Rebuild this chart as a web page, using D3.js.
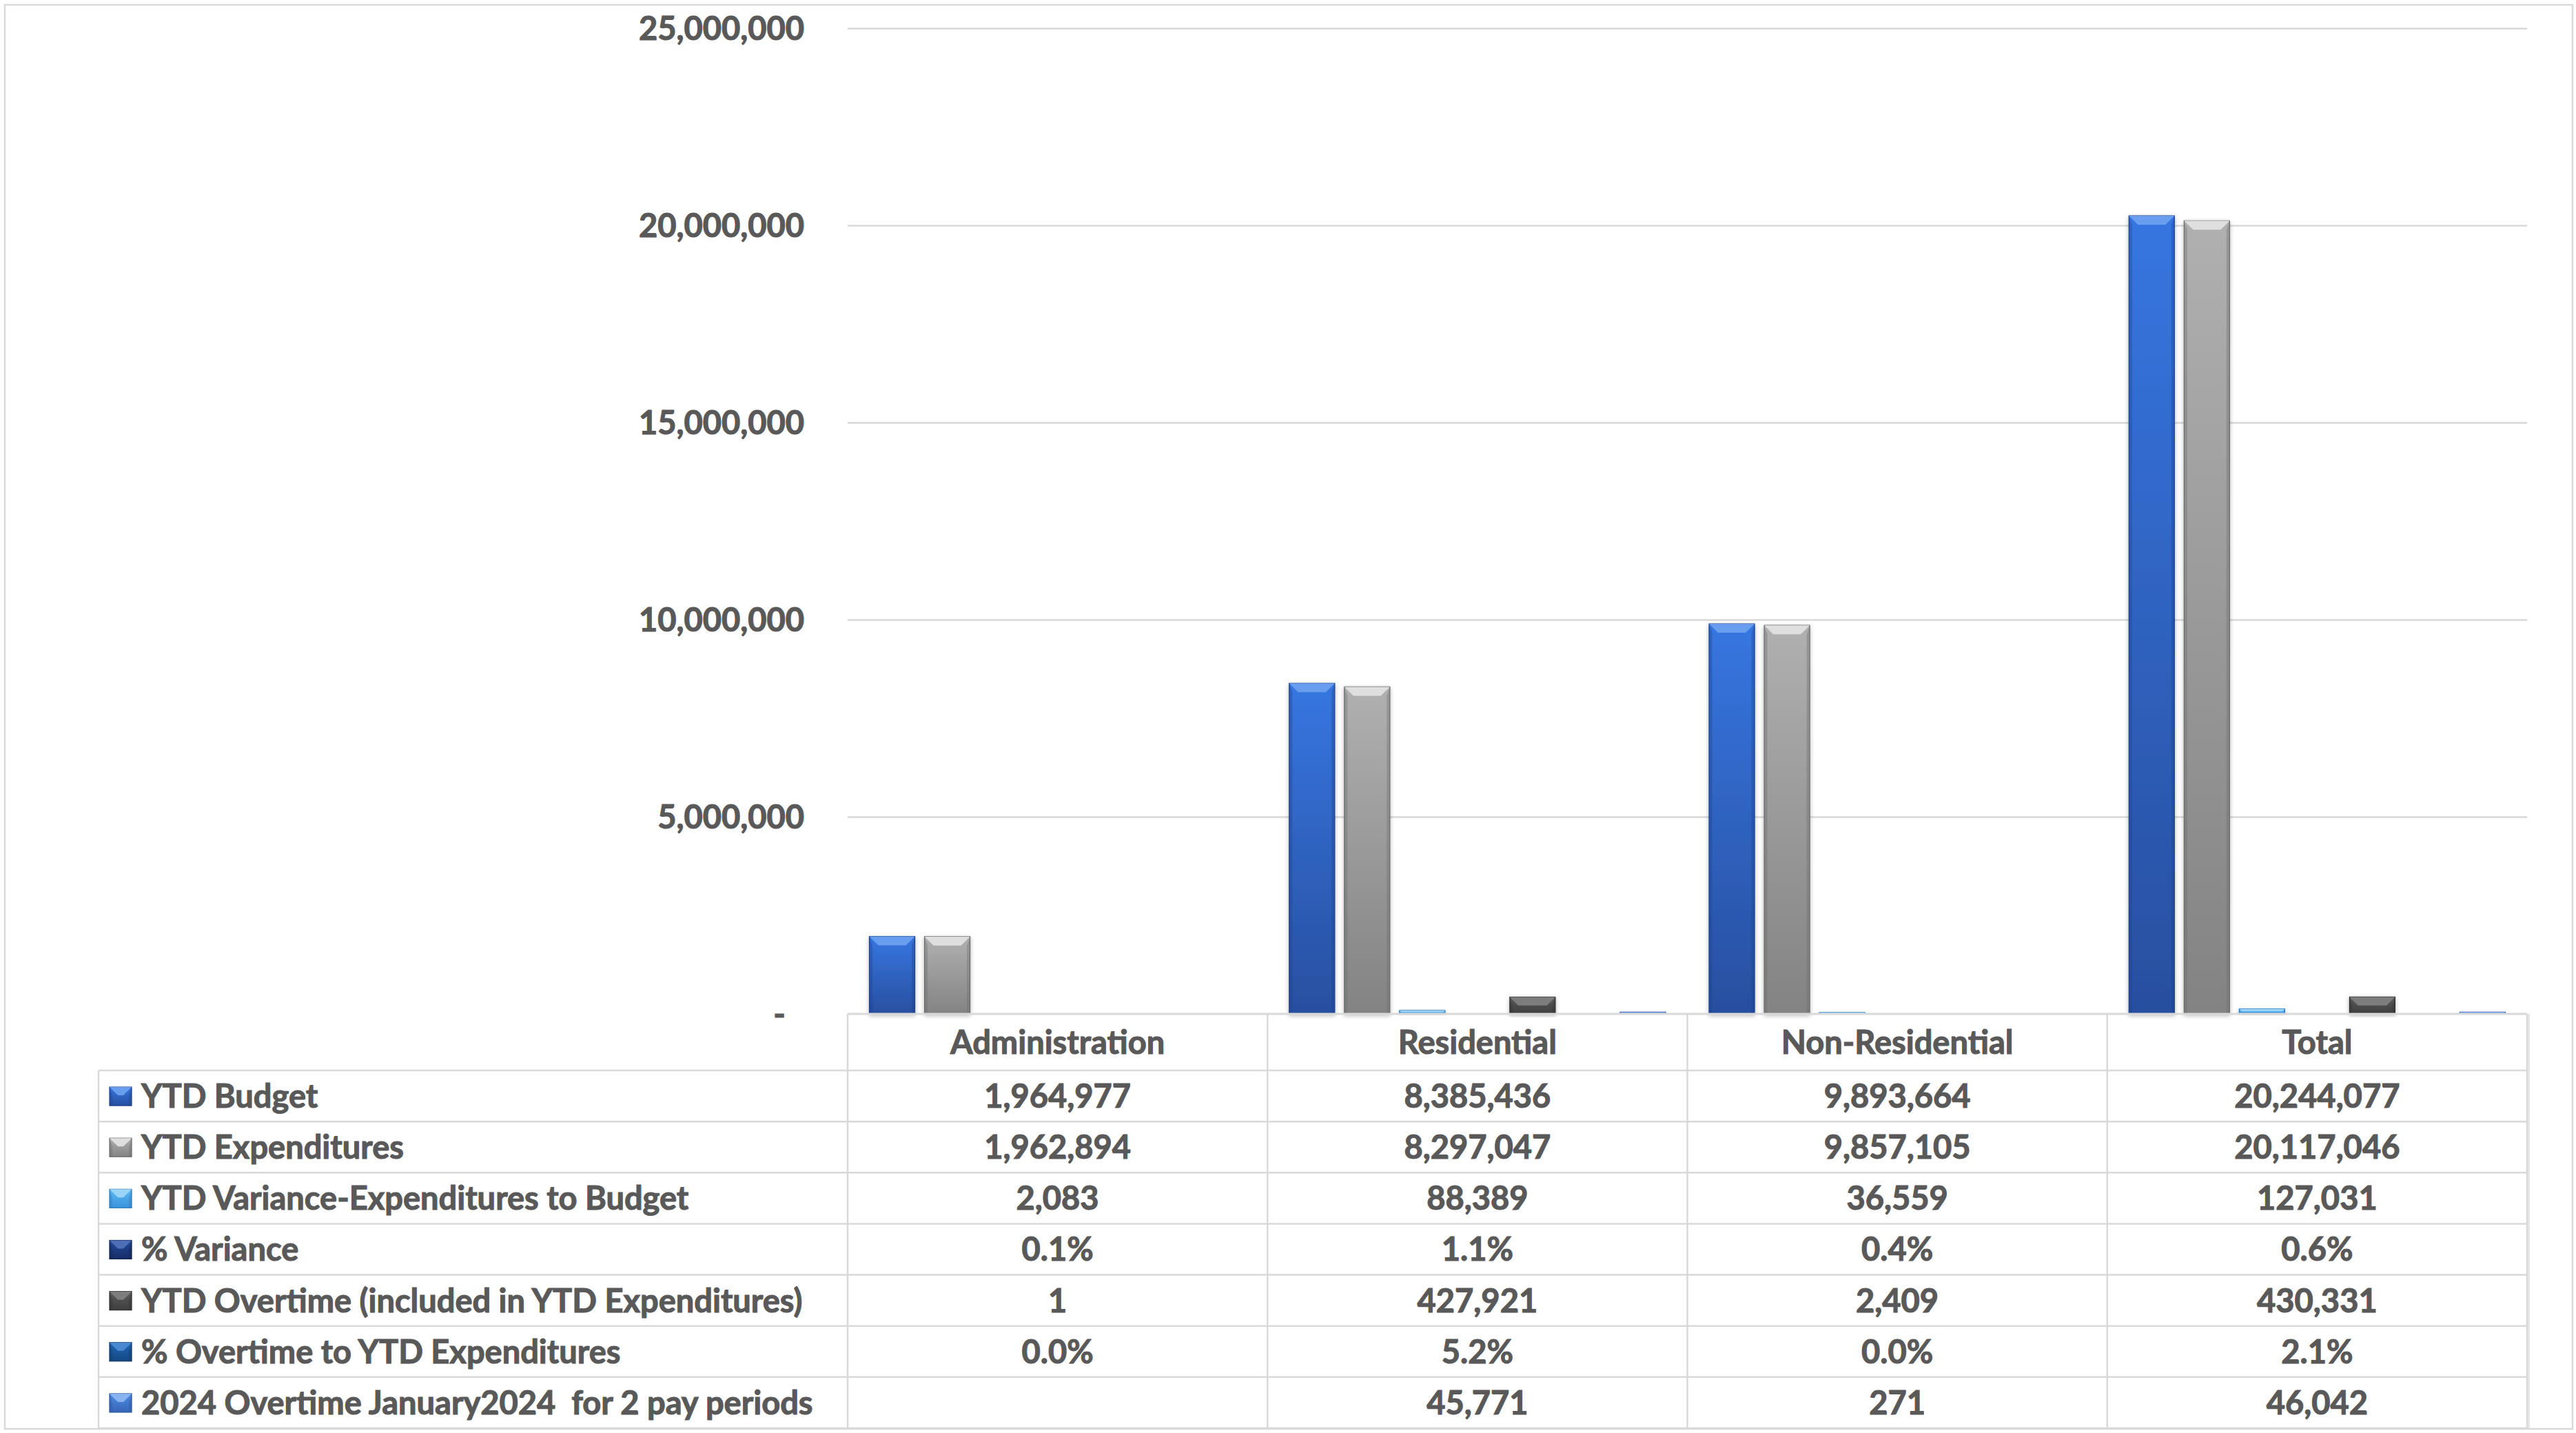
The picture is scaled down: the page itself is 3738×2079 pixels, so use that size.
<!DOCTYPE html>
<html>
<head>
<meta charset="utf-8">
<script src="https://cdn.jsdelivr.net/npm/d3@7"></script>
<style>
  body { margin: 0; background: #fff; }
  svg text { font-family: Lato, "Open Sans", sans-serif; font-weight: 700; fill: #595959; stroke: #595959; stroke-width: 1.1px; white-space: pre; }
</style>
</head>
<body>
<div id="chart"></div>
<script>
const categories = ["Administration", "Residential", "Non-Residential", "Total"];
const seriesNames = [
  "YTD Budget",
  "YTD Expenditures",
  "YTD Variance-Expenditures to Budget",
  "% Variance",
  "YTD Overtime (included in YTD Expenditures)",
  "% Overtime to YTD Expenditures",
  "2024 Overtime January2024  for 2 pay periods"
];
const ytdBudget = [1964977, 8385436, 9893664, 20244077];
const ytdExpenditures = [1962894, 8297047, 9857105, 20117046];
const ytdVariance = [2083, 88389, 36559, 127031];
const pctVariance = [0.001, 0.011, 0.004, 0.006];
const ytdOvertime = [1, 427921, 2409, 430331];
const pctOvertime = [0.0, 0.052, 0.0, 0.021];
const overtime2024 = [null, 45771, 271, 46042];
const yTicks = [0, 5000000, 10000000, 15000000, 20000000, 25000000];

const seriesValues = [ytdBudget, ytdExpenditures, ytdVariance, pctVariance, ytdOvertime, pctOvertime, overtime2024];
const isPercent = [false, false, false, true, false, true, false];

// kolori: top, bottom, bevel, rub
const palette = [
  { top: "#3676E0", bottom: "#284FA0", bevel: "#6FA2EF", edge: "#1E418A" },
  { top: "#B0B0B0", bottom: "#838383", bevel: "#E4E4E4", edge: "#6A6A6A" },
  { top: "#5DB9F3", bottom: "#3A93DA", bevel: "#A2D8F9", edge: "#2A7BC0" },
  { top: "#26499A", bottom: "#152D66", bevel: "#5173BA", edge: "#10244F" },
  { top: "#5C5C5C", bottom: "#3E3E3E", bevel: "#828282", edge: "#303030" },
  { top: "#2166B4", bottom: "#144883", bevel: "#4F8ED4", edge: "#0F3868" },
  { top: "#528BE2", bottom: "#3566B8", bevel: "#8FB9F3", edge: "#2A559E" }
];

const W = 3738, H = 2079;
const plotLeft = 1230, plotRight = 3667;
const tableLeft = 143, tableTop = 1471, headerBottom = 1553, tableBottom = 2072;

const svg = d3.select("#chart").append("svg")
  .attr("width", W).attr("height", H);

const defs = svg.append("defs");
defs.append("filter").attr("id", "shadow")
  .attr("x", "-20%").attr("y", "-20%").attr("width", "140%").attr("height", "140%")
  .append("feDropShadow")
  .attr("dx", 0).attr("dy", 2).attr("stdDeviation", 3)
  .attr("flood-color", "#000").attr("flood-opacity", 0.28);

palette.forEach((p, i) => {
  const lg = defs.append("linearGradient").attr("id", "grad" + i)
    .attr("x1", 0).attr("y1", 0).attr("x2", 0).attr("y2", 1);
  lg.append("stop").attr("offset", "0%").attr("stop-color", p.top);
  lg.append("stop").attr("offset", "100%").attr("stop-color", p.bottom);
});

// okvir
svg.append("rect")
  .attr("x", 7).attr("y", 7).attr("width", 3726).attr("height", 2066)
  .attr("fill", "none").attr("stroke", "#D9D9D9").attr("stroke-width", 2.5);

const y = d3.scaleLinear().domain([0, 25000000]).range([tableTop, 41]);
const x0 = d3.scaleBand().domain(categories).range([plotLeft, plotRight]).padding(0);
const x1 = d3.scaleBand().domain(d3.range(seriesNames.length))
  .range([0, x0.bandwidth()]).paddingInner(0.175).paddingOuter(0.394);

// os y + mreza
const yAxis = svg.append("g")
  .attr("transform", `translate(${plotLeft},0)`)
  .call(d3.axisLeft(y)
    .tickValues(yTicks)
    .tickSizeInner(-(plotRight - plotLeft))
    .tickSizeOuter(0)
    .tickPadding(63)
    .tickFormat((d) => (d === 0 ? "-\u2007" : d3.format(",")(d))));
yAxis.select(".domain").remove();
yAxis.selectAll(".tick line")
  .attr("stroke", "#D9D9D9").attr("stroke-width", 2.5)
  .attr("display", (d) => (d === 0 ? "none" : null));
yAxis.selectAll(".tick text")
  .attr("font-size", 47).attr("dy", "0.36em")
  .attr("font-family", null).attr("fill", null);

function bevelShape(g, x, yTop, w, h, p, idx, b) {
  const bb = Math.min(b, h / 2, w / 2);
  g.append("rect")
    .attr("x", x).attr("y", yTop).attr("width", w).attr("height", h)
    .attr("fill", `url(#grad${idx})`)
    .attr("stroke", p.edge).attr("stroke-width", 1.2);
  // gornji bevel
  g.append("polygon")
    .attr("points", [[x, yTop], [x + w, yTop], [x + w - bb, yTop + bb], [x + bb, yTop + bb]].join(" "))
    .attr("fill", p.bevel).attr("opacity", 0.9);
  // bocni rubovi
  g.append("polygon")
    .attr("points", [[x, yTop], [x + bb * 0.35, yTop + bb], [x + bb * 0.35, yTop + h], [x, yTop + h]].join(" "))
    .attr("fill", p.edge).attr("opacity", 0.35);
  g.append("polygon")
    .attr("points", [[x + w, yTop], [x + w - bb * 0.35, yTop + bb], [x + w - bb * 0.35, yTop + h], [x + w, yTop + h]].join(" "))
    .attr("fill", p.edge).attr("opacity", 0.35);
}

// barovi
const bars = [];
categories.forEach((c, ci) => {
  seriesValues.forEach((vals, si) => {
    const v = vals[ci];
    if (v == null) return;
    bars.push({ cat: c, si, v });
  });
});

const barG = svg.append("g");
bars.forEach((d) => {
  const h = y(0) - y(d.v);
  if (h < 1) return;
  const g = barG.append("g").attr("filter", "url(#shadow)");
  bevelShape(g, x0(d.cat) + x1(d.si), y(d.v), x1.bandwidth(), h, palette[d.si], d.si, 13);
});

// tablica
const rows = d3.scaleBand().domain(d3.range(seriesNames.length)).range([headerBottom, tableBottom]);
const table = svg.append("g");
const lineColor = "#D9D9D9";

// horizontalne linije
table.append("line")
  .attr("x1", plotLeft).attr("x2", plotRight)
  .attr("y1", tableTop).attr("y2", tableTop)
  .attr("stroke", lineColor).attr("stroke-width", 3);
d3.range(seriesNames.length + 1).forEach((i) => {
  const yy = headerBottom + i * rows.step();
  table.append("line")
    .attr("x1", tableLeft).attr("x2", plotRight)
    .attr("y1", yy).attr("y2", yy)
    .attr("stroke", lineColor).attr("stroke-width", 2.5);
});
// vertikalne linije
table.append("line")
  .attr("x1", tableLeft).attr("x2", tableLeft)
  .attr("y1", headerBottom).attr("y2", tableBottom)
  .attr("stroke", lineColor).attr("stroke-width", 2.5);
categories.concat([null]).forEach((c) => {
  const xx = c == null ? plotRight : x0(c);
  table.append("line")
    .attr("x1", xx).attr("x2", xx)
    .attr("y1", tableTop).attr("y2", tableBottom)
    .attr("stroke", lineColor).attr("stroke-width", 2.5);
});
table.append("line")
  .attr("x1", plotRight + 2.5).attr("x2", plotRight + 2.5)
  .attr("y1", tableTop).attr("y2", tableBottom)
  .attr("stroke", "#E6E6E6").attr("stroke-width", 3);

// zaglavlje
table.selectAll("text.cat")
  .data(categories)
  .enter()
  .append("text")
  .attr("class", "cat")
  .attr("x", (d) => x0(d) + x0.bandwidth() / 2)
  .attr("y", (tableTop + headerBottom) / 2)
  .attr("dy", "0.36em")
  .attr("text-anchor", "middle")
  .attr("font-size", 47)
  .text((d) => d);

// legenda u redovima
const rowG = table.selectAll("g.row")
  .data(seriesNames)
  .enter()
  .append("g")
  .attr("class", "row")
  .attr("transform", (d, i) => `translate(0,${rows(i) + rows.bandwidth() / 2})`);

rowG.each(function (d, i) {
  const g = d3.select(this);
  bevelShape(g, 159, -13, 32, 27, palette[i], i, 12);
});

rowG.append("text")
  .attr("x", 205)
  .attr("dy", "0.36em")
  .attr("font-size", 47)
  .attr("textLength", null)
  .text((d) => d);

const fmtNum = d3.format(",");
const fmtPct = d3.format(".1%");
rowG.each(function (d, i) {
  const g = d3.select(this);
  categories.forEach((c, ci) => {
    const v = seriesValues[i][ci];
    if (v == null) return;
    g.append("text")
      .attr("x", x0(c) + x0.bandwidth() / 2)
      .attr("dy", "0.36em")
      .attr("text-anchor", "middle")
      .attr("font-size", 47)
      .text(isPercent[i] ? fmtPct(v) : fmtNum(v));
  });
});
</script>
</body>
</html>
